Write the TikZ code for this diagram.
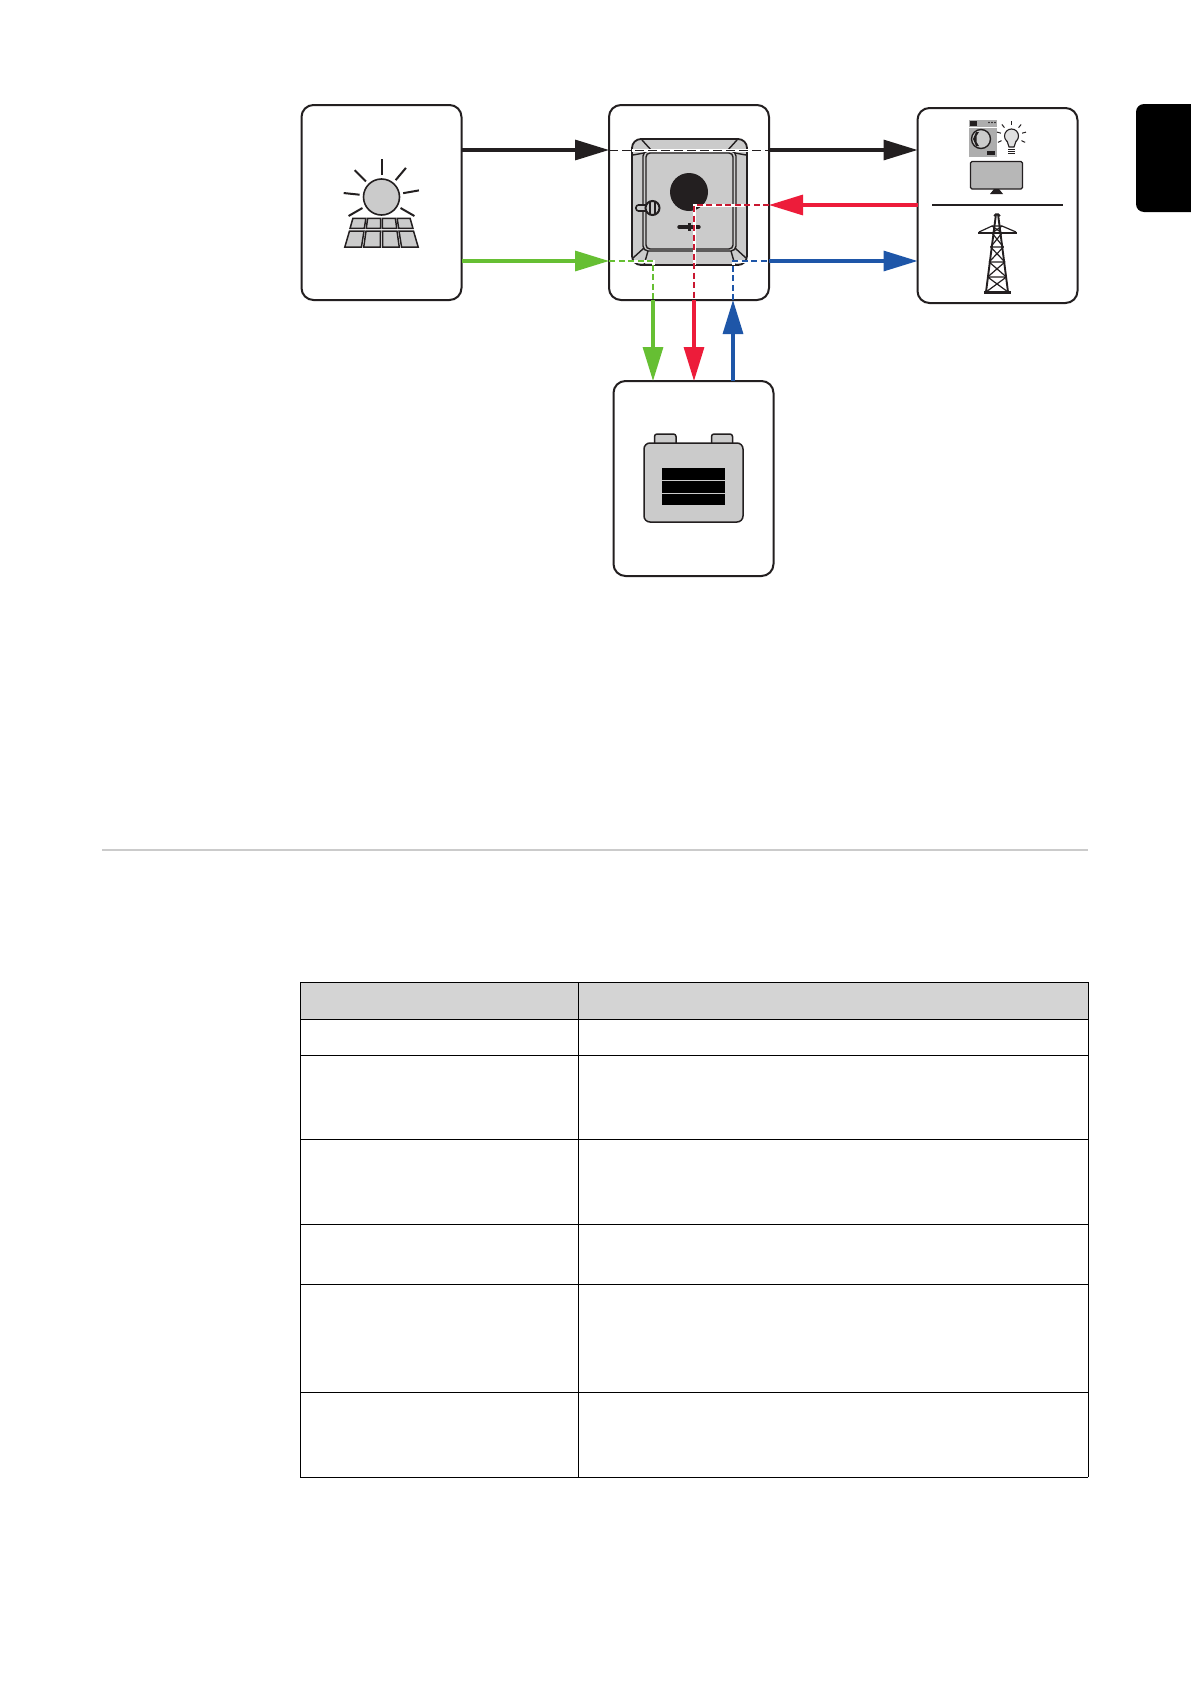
\documentclass[tikz,border=0pt]{standalone}
\usepackage{xcolor}
\usetikzlibrary{arrows.meta}
\definecolor{inkblack}{HTML}{231F20}
\definecolor{flowgreen}{HTML}{66BF33}
\definecolor{flowred}{HTML}{ED1C3A}
\definecolor{flowblue}{HTML}{1E56A8}
\definecolor{icongray}{HTML}{CBCBCB}
\definecolor{headgray}{HTML}{D4D4D4}
\tikzset{
unitbox/.style={rectangle,draw=inkblack,line width=2pt,rounded corners=12pt,minimum width=160pt,minimum height=195pt,inner sep=0pt,outer sep=0pt},
flow/.style={line width=3.2pt,-{Triangle[length=34pt,width=20pt]}},
inner flow/.style={line width=1.5pt,dash pattern=on 6pt off 3.5pt},
under/.style={white,line width=3pt},
iconpart/.style={draw=inkblack,fill=icongray,line width=1.5pt},
iconline/.style={draw=inkblack,line width=1.4pt}
}
\begin{document}
\begin{tikzpicture}[x=1pt,y=-1pt]
\useasboundingbox (0,0) rectangle (1191,1684);
\fill[white] (0,0) rectangle (1191,1684);
% page tab and rule
\fill[black] (1191,104) [rounded corners=8pt] -- (1136,104) -- (1136,212) [sharp corners] -- (1191,212) -- cycle;
\draw[icongray,line width=1.2pt] (102,850) -- (1088,850);
% units
\node[unitbox] (PV) at (381.5,202.5) {};
\node[unitbox] (INV) at (689,202.5) {};
\node[unitbox] (LOAD) at (997.5,205.5) {};
\node[unitbox] (BAT) at (693.5,478.5) {};
% inverter icon
\draw[iconpart,line width=1.8pt,rounded corners=9pt] (632,139) rectangle (747,265);
\draw[iconline,rounded corners=5pt] (643,151) rectangle (736,251);
\draw[iconline,rounded corners=4pt] (646,153) rectangle (733,249);
\draw[iconline] (642,140) -- (652,151);
\draw[iconline] (737,140) -- (727,151);
\draw[iconline] (633,155) -- (644,153);
\draw[iconline] (746,155) -- (735,153);
\draw[iconline] (633,258) -- (644,248);
\draw[iconline] (746,258) -- (735,248);
\draw[iconline] (644,265) -- (648,251);
\draw[iconline] (735,265) -- (731,251);
\node[circle,fill=inkblack,minimum size=38pt,inner sep=0pt] (LENS) at (689,192) {};
\draw[iconpart,line width=1.6pt,rounded corners=2.5pt] (636,205) rectangle (648,211);
\node[circle,iconpart,line width=2pt,minimum size=14pt,inner sep=0pt] (KNOB) at (652.5,208) {};
\draw[inkblack,line width=1.4pt] (650,202) -- (650,214) (655,202) -- (655,214);
\draw[inkblack,line width=3.4pt,line cap=round] (679,227) -- (699,227);
\fill[inkblack] (687.5,223) rectangle (691,231);
% pv icon
\node[circle,iconpart,line width=1.6pt,minimum size=36pt,inner sep=0pt] (SUN) at (381.5,197) {};
\foreach \a in {-90,-50,-135,-10,-174,30,150}
\draw[inkblack,line width=2pt] ([shift={(\a:22)}]SUN.center) -- ([shift={(\a:38)}]SUN.center);
\foreach \ya/\wa/\yb/\wb in {218.3/14.75/228.3/16.2,231/16.5/247/18.9}
\foreach \c in {-2,-1,0,1}
\draw[iconpart] ({381.5+(\c+.06)*\wa},\ya) -- ({381.5+(\c+.94)*\wa},\ya) -- ({381.5+(\c+.94)*\wb},\yb) -- ({381.5+(\c+.06)*\wb},\yb) -- cycle;
% load icons
\fill[icongray!85!black] (969,120) rectangle (997,157);
\fill[inkblack] (970,121) rectangle (977,126);
\fill[inkblack] (989,122.5) circle (.8pt) (992,122.5) circle (.8pt) (995,122.5) circle (.8pt);
\draw[white,line width=.6pt] (969,127) -- (997,127);
\node[circle,draw=inkblack,fill=icongray,line width=1.4pt,minimum size=19pt,inner sep=0pt] (DRUM) at (981,139) {};
\fill[inkblack] (976,132) -- (979,132) -- (976.5,136) -- (976.5,142) -- (979,146) -- (976,146) -- (973,139) -- cycle;
\fill[inkblack] (987,151) rectangle (995,155);
\node[circle,draw=inkblack,line width=1.1pt,fill=icongray!60,minimum size=14pt,inner sep=0pt] (BULB) at (1011.5,136) {};
\draw[iconline,line width=1.1pt,fill=icongray!60] (1007,141) -- (1009,147) -- (1014,147) -- (1016,141);
\foreach \yy in {149,151,153}
\draw[inkblack,line width=1pt] (1008,\yy) -- (1015,\yy);
\foreach \a in {-90,-50,-130,-15,-165,25,155}
\draw[inkblack,line width=1pt] ([shift={(\a:11)}]BULB.center) -- ([shift={(\a:15)}]BULB.center);
\draw[iconpart,line width=1.1pt,fill=icongray!90!black,rounded corners=1.5pt] (970.5,161.5) rectangle (1022.5,189);
\fill[inkblack] (990,194) -- (994,189) -- (999,189) -- (1003,194) -- cycle;
\draw[inkblack,line width=1.6pt] (932,205) -- (1063,205);
% tower
\draw[inkblack,line width=1.9pt] (996,214) -- (986,292);
\draw[inkblack,line width=1.9pt] (998,214) -- (1008,292);
\draw[inkblack,line width=1.5pt] (994,216) -- (996,214) -- (998,214) -- (1000,216);
\draw[inkblack,line width=1.8pt] (978,233) -- (1017,233);
\draw[inkblack,line width=1.2pt] (979,232) -- (992,226) -- (1002,226) -- (1016,232);
\draw[inkblack,line width=1.2pt] (992,226) -- (1002,233) (1002,226) -- (992,233);
\foreach \ya/\wa/\yb/\wb in {233/5/247/6.4,247/6.4/262/7.9,262/7.9/277/9.4,277/9.4/292/11}
\draw[inkblack,line width=1.2pt] ({997-\wa},\ya) -- ({997+\wb},\yb) ({997+\wa},\ya) -- ({997-\wb},\yb) ({997-\wa},\ya) -- ({997+\wa},\ya);
\draw[inkblack,line width=3pt] (984,292) -- (1011,292);
% battery icon
\draw[iconpart,rounded corners=2.5pt] (654.5,443) -- (654.5,434) -- (676,434) -- (676,443);
\draw[iconpart,rounded corners=2.5pt] (711.5,443) -- (711.5,434) -- (732.5,434) -- (732.5,443);
\draw[iconpart,rounded corners=6pt] (644,443) rectangle (743,522);
\foreach \ya/\yb in {468/479.5,481/492.5,494/505}
\fill[black] (662,\ya) rectangle (725,\yb);
% flows
\draw[flow,inkblack] ([yshift=52.5pt]PV.east) -- ([yshift=52.5pt]INV.west);
\draw[flow,inkblack] ([yshift=52.5pt]INV.east) -- ([yshift=55.5pt]LOAD.west);
\draw[flow,flowgreen] ([yshift=-58.5pt]PV.east) -- ([yshift=-58.5pt]INV.west);
\draw[flow,flowblue] ([yshift=-58.5pt]INV.east) -- ([yshift=-55.5pt]LOAD.west);
\draw[flow,flowred] ([yshift=.5pt]LOAD.west) -- ([yshift=-2.5pt]INV.east);
\draw[flow,flowgreen] ([xshift=-36pt]INV.south) -- ([xshift=-40.5pt]BAT.north);
\draw[flow,flowred] ([xshift=5pt]INV.south) -- ([xshift=.5pt]BAT.north);
\draw[flow,flowblue] ([xshift=39.5pt]BAT.north) -- ([xshift=44pt]INV.south);
% dashed paths through the inverter
\draw[under] (632,150) -- (750,150);
\draw[under] (653,265) -- (653,261) -- (632,261);
\draw[under] (694,265) -- (694,205) -- (745,205);
\draw[under] (733,265) -- (733,261) -- (747,261);
\draw[inkblack,line width=1pt,dash pattern=on 9pt off 4pt] ([yshift=52.5pt]INV.west) -- ([yshift=52.5pt]INV.east);
\draw[inner flow,flowgreen] ([yshift=-58.5pt]INV.west) -- (653,261) -- ([xshift=-36pt]INV.south);
\draw[inner flow,flowred!85!black] ([yshift=-2.5pt]INV.east) -- (694,205) -- ([xshift=5pt]INV.south);
\draw[inner flow,flowblue] ([xshift=44pt]INV.south) -- (733,261) -- ([yshift=-58.5pt]INV.east);
% table
\fill[headgray] (300,982) rectangle (1088,1019);
\foreach \y in {982,1019,1055,1139,1224,1284.5,1392,1477}
\draw[black,line width=1pt] (300,\y) -- (1088,\y);
\foreach \x in {300,578,1088}
\draw[black,line width=1pt] (\x,982) -- (\x,1477);
\end{tikzpicture}
\end{document}
